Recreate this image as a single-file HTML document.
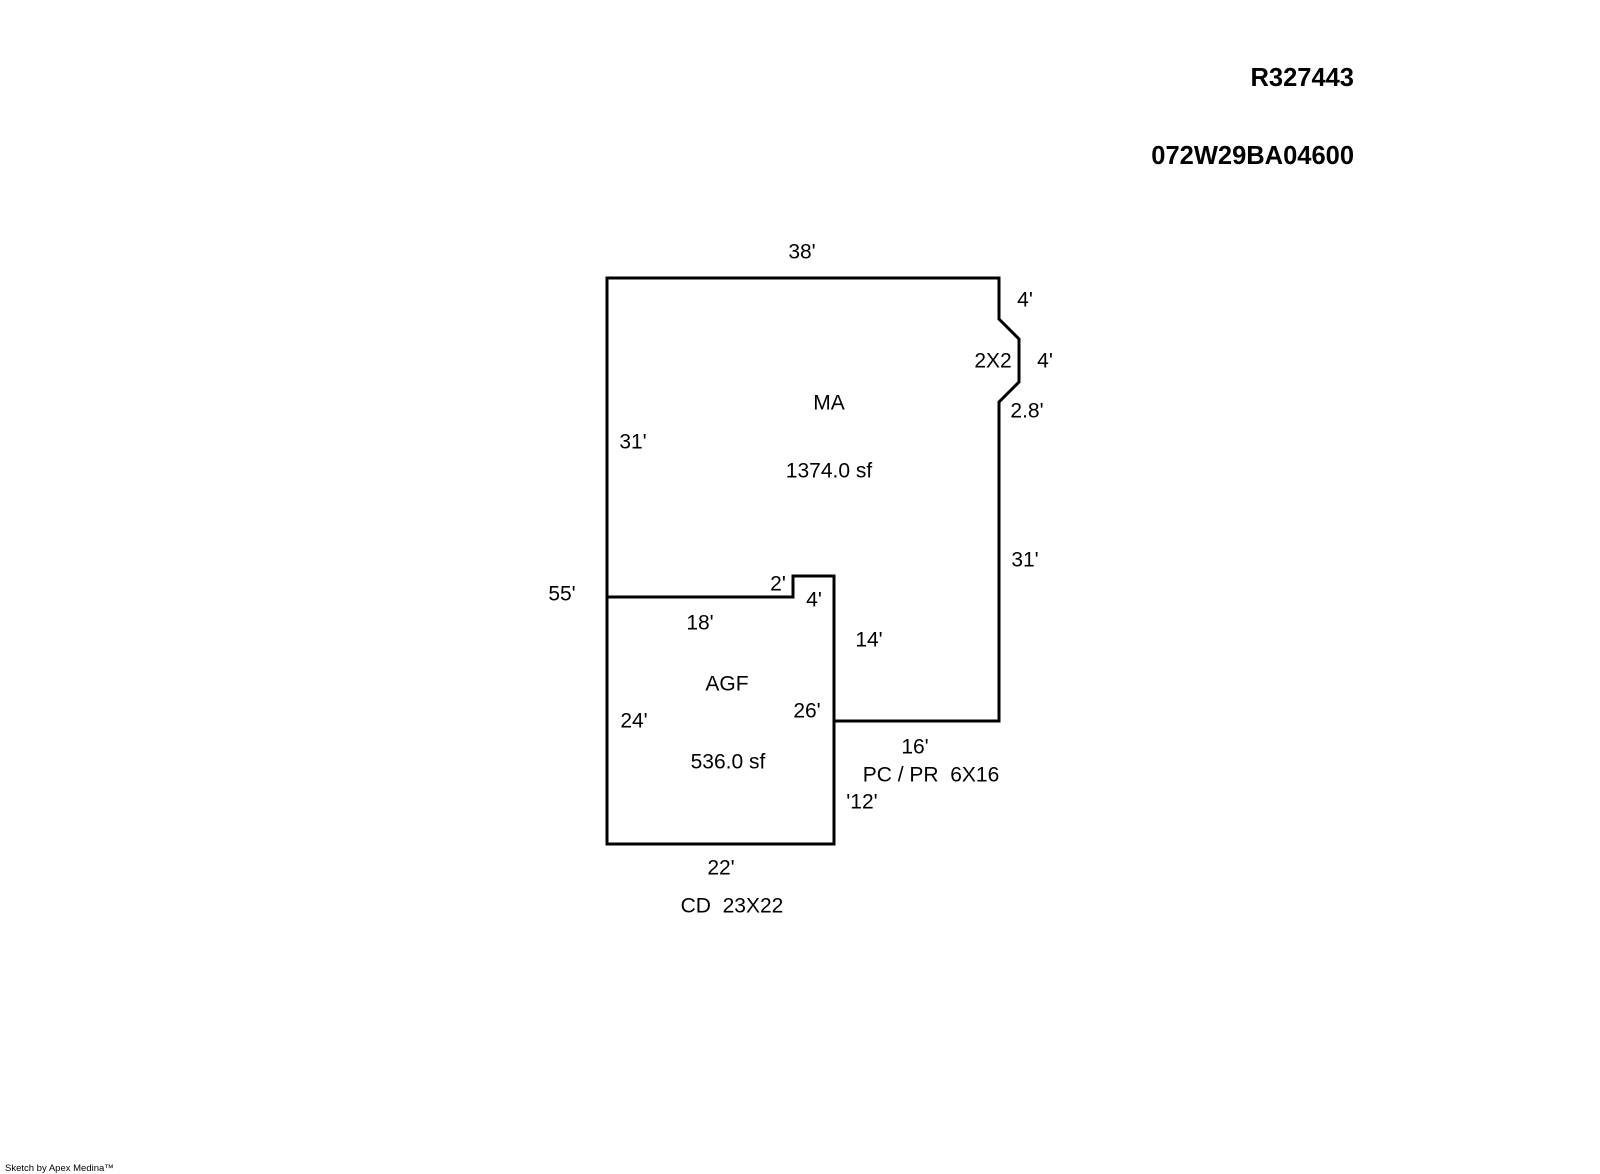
<!DOCTYPE html>
<html><head><meta charset="utf-8"><style>
html,body{margin:0;padding:0;background:#fff;}
svg{display:block;}
text{font-family:"Liberation Sans",Arial,sans-serif;font-size:21px;fill:#000;}
.b{font-weight:bold;font-size:25.5px;}
</style></head><body>
<svg width="1600" height="1174" viewBox="0 0 1600 1174" xmlns="http://www.w3.org/2000/svg">
<g fill="none" stroke="#000" stroke-width="3" stroke-linejoin="miter">
<polyline points="607,597 607,278 999,278 999,319 1019,339 1019,382 999,402 999,721 834,721"/>
<polyline points="607,597 793,597 793,576 834,576 834,844 607,844 607,597"/>
</g>
<g text-anchor="middle" dominant-baseline="central">
<text x="802" y="252">38'</text>
<text x="1025" y="300">4'</text>
<text x="993" y="361">2X2</text>
<text x="1045" y="361">4'</text>
<text x="1027" y="411">2.8'</text>
<text x="829" y="403">MA</text>
<text x="829" y="471">1374.0 sf</text>
<text x="633" y="442">31'</text>
<text x="1025" y="560">31'</text>
<text x="562" y="594">55'</text>
<text x="778" y="584">2'</text>
<text x="814" y="600">4'</text>
<text x="700" y="623">18'</text>
<text x="869" y="640">14'</text>
<text x="727" y="684">AGF</text>
<text x="807" y="711">26'</text>
<text x="634" y="721">24'</text>
<text x="728" y="762">536.0 sf</text>
<text x="915" y="747">16'</text>
<text x="931" y="775" xml:space="preserve">PC / PR  6X16</text>
<text x="862" y="802">'12'</text>
<text x="721" y="868">22'</text>
<text x="732" y="906" xml:space="preserve">CD  23X22</text>
</g>
<text class="b" x="1354" y="78" text-anchor="end" dominant-baseline="central">R327443</text>
<text class="b" x="1354" y="156" text-anchor="end" dominant-baseline="central">072W29BA04600</text>
<text x="5" y="1171" style="font-size:9.5px">Sketch by Apex Medina™</text>
</svg>
</body></html>
